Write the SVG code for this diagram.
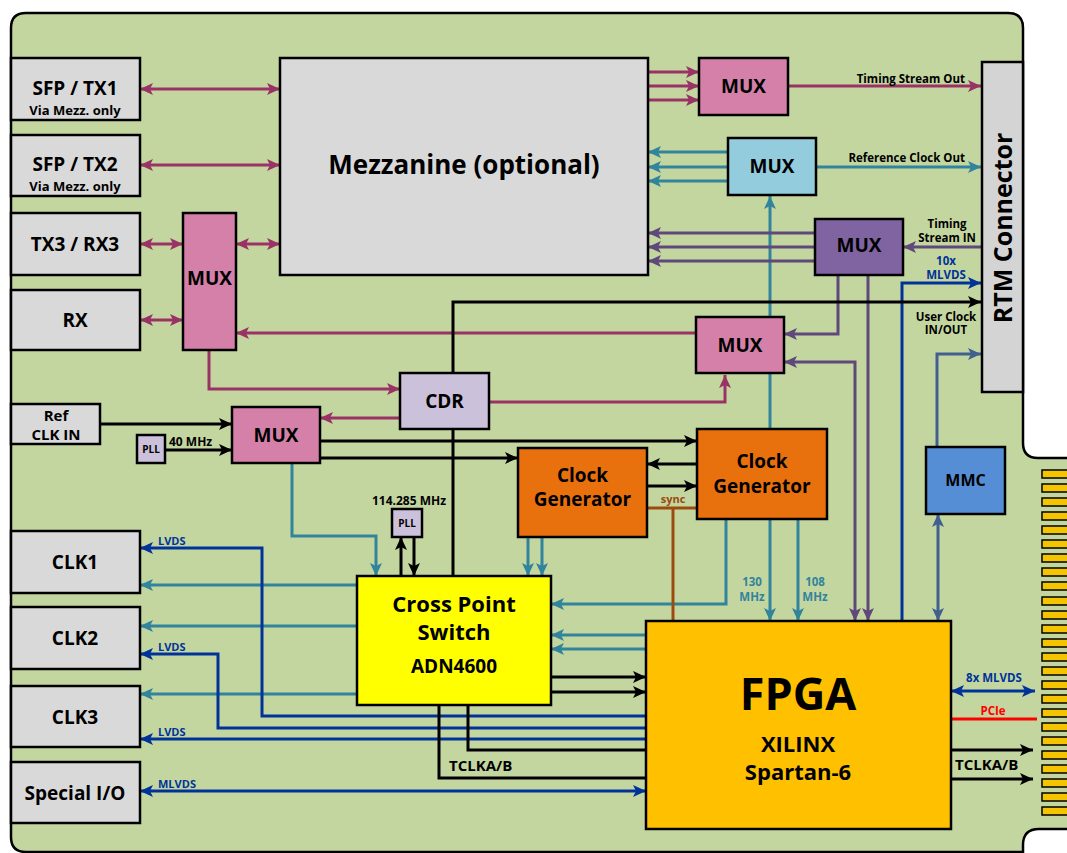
<svg xmlns="http://www.w3.org/2000/svg" width="1067" height="853" viewBox="0 0 1067 853">
<defs>
<style>
text{font-family:"Open Sans","Liberation Sans",sans-serif;font-weight:700;fill:#000}
.c{text-anchor:middle}
.e{text-anchor:end}
.box{stroke:#000;stroke-width:2.5}
.gray{fill:#D9D9D9}
.pink{fill:#D580A8}
.teal{fill:#93CDDD}
.purp{fill:#8064A2}
.lav{fill:#CCC1DA}
.orng{fill:#E8710E}
.yel{fill:#FFFF00}
.gold{fill:#FFC000}
.mmc{fill:#558ED5}
.ln{fill:none;stroke-width:3}
.mr{stroke:#993366}
.tl{stroke:#31849B}
.pu{stroke:#5F497A}
.bl{stroke:#003399}
.st{stroke:#41608F}
.bk{stroke:#000}
.br{stroke:#9C4A0E}
.rd{stroke:#FF0000}
.f19{font-size:19px}
.f11{font-size:11.5px}
.fin{fill:#F5C400;stroke:#000;stroke-width:1.5}
</style>
<marker id="aM" viewBox="0 0 13 12" refX="13" refY="6" markerWidth="13" markerHeight="12" markerUnits="userSpaceOnUse" orient="auto-start-reverse"><path d="M0,0 L13,6 L0,12 L3,6 z" fill="#993366"/></marker>
<marker id="aT" viewBox="0 0 13 12" refX="13" refY="6" markerWidth="13" markerHeight="12" markerUnits="userSpaceOnUse" orient="auto-start-reverse"><path d="M0,0 L13,6 L0,12 L3,6 z" fill="#31849B"/></marker>
<marker id="aP" viewBox="0 0 13 12" refX="13" refY="6" markerWidth="13" markerHeight="12" markerUnits="userSpaceOnUse" orient="auto-start-reverse"><path d="M0,0 L13,6 L0,12 L3,6 z" fill="#5F497A"/></marker>
<marker id="aB" viewBox="0 0 13 12" refX="13" refY="6" markerWidth="13" markerHeight="12" markerUnits="userSpaceOnUse" orient="auto-start-reverse"><path d="M0,0 L13,6 L0,12 L3,6 z" fill="#003399"/></marker>
<marker id="aS" viewBox="0 0 13 12" refX="13" refY="6" markerWidth="13" markerHeight="12" markerUnits="userSpaceOnUse" orient="auto-start-reverse"><path d="M0,0 L13,6 L0,12 L3,6 z" fill="#41608F"/></marker>
<marker id="aK" viewBox="0 0 13 12" refX="13" refY="6" markerWidth="13" markerHeight="12" markerUnits="userSpaceOnUse" orient="auto-start-reverse"><path d="M0,0 L13,6 L0,12 L3,6 z" fill="#000"/></marker>
</defs>
<rect width="1067" height="853" fill="#fff"/>
<g id="board">
<path d="M11,28 Q11,13 26,13 L1008,13 Q1023,13 1023,28 L1023,443 Q1023,458 1038,458 L1070,458 L1070,829 L1039,829 Q1023,829 1023,845 L1023,852 L26,852 Q11,852 11,837 Z" fill="#C4D6A0" stroke="#000" stroke-width="2.5"/>
<g id="fingers">
<rect class="fin" x="1042" y="470" width="30" height="8"/>
<rect class="fin" x="1042" y="484" width="30" height="8"/>
<rect class="fin" x="1042" y="498" width="30" height="8"/>
<rect class="fin" x="1042" y="512" width="30" height="8"/>
<rect class="fin" x="1042" y="526" width="30" height="8"/>
<rect class="fin" x="1042" y="540" width="30" height="8"/>
<rect class="fin" x="1042" y="554" width="30" height="8"/>
<rect class="fin" x="1042" y="568" width="30" height="8"/>
<rect class="fin" x="1042" y="582" width="30" height="8"/>
<rect class="fin" x="1042" y="597" width="30" height="8"/>
<rect class="fin" x="1042" y="611" width="30" height="8"/>
<rect class="fin" x="1042" y="625" width="30" height="8"/>
<rect class="fin" x="1042" y="639" width="30" height="8"/>
<rect class="fin" x="1042" y="653" width="30" height="8"/>
<rect class="fin" x="1042" y="667" width="30" height="8"/>
<rect class="fin" x="1042" y="681" width="30" height="8"/>
<rect class="fin" x="1042" y="695" width="30" height="8"/>
<rect class="fin" x="1042" y="709" width="30" height="8"/>
<rect class="fin" x="1042" y="723" width="30" height="8"/>
<rect class="fin" x="1042" y="737" width="30" height="8"/>
<rect class="fin" x="1042" y="751" width="30" height="8"/>
<rect class="fin" x="1042" y="765" width="30" height="8"/>
<rect class="fin" x="1042" y="779" width="30" height="8"/>
<rect class="fin" x="1042" y="793" width="30" height="8"/>
<rect class="fin" x="1042" y="807" width="30" height="8"/>
</g>
</g>
<g id="connectors">
<g class="ln mr">
<path d="M140,89 H280" marker-start="url(#aM)" marker-end="url(#aM)"/>
<path d="M140,165 H280" marker-start="url(#aM)" marker-end="url(#aM)"/>
<path d="M140,244 H183" marker-start="url(#aM)" marker-end="url(#aM)"/>
<path d="M236,244 H280" marker-start="url(#aM)" marker-end="url(#aM)"/>
<path d="M140,320 H183" marker-start="url(#aM)" marker-end="url(#aM)"/>
<path d="M696,333 H236" marker-end="url(#aM)"/>
<path d="M209,350 V389 H400" marker-end="url(#aM)"/>
<path d="M400,418 H320" marker-end="url(#aM)"/>
<path d="M489,402 H725 V375" marker-end="url(#aM)"/>
<path d="M648,72 H699" marker-end="url(#aM)"/>
<path d="M648,86 H699" marker-end="url(#aM)"/>
<path d="M648,100 H699" marker-end="url(#aM)"/>
<path d="M788,86 H981" marker-end="url(#aM)"/>
</g>
<g class="ln tl">
<path d="M728,152 H648" marker-end="url(#aT)"/>
<path d="M728,167 H648" marker-end="url(#aT)"/>
<path d="M728,181 H648" marker-end="url(#aT)"/>
<path d="M816,167 H981" marker-end="url(#aT)"/>
<path d="M770,429 V196" marker-end="url(#aT)"/>
<path d="M528,537 V576" marker-end="url(#aT)"/>
<path d="M542,537 V576" marker-end="url(#aT)"/>
<path d="M726,519 V604 H551" marker-end="url(#aT)"/>
<path d="M770,519 V621" marker-end="url(#aT)"/>
<path d="M798,519 V621" marker-end="url(#aT)"/>
<path d="M292,463 V536 H376 V576" marker-end="url(#aT)"/>
<path d="M357,585 H140" marker-end="url(#aT)"/>
<path d="M357,626 H140" marker-end="url(#aT)"/>
<path d="M357,694 H140" marker-end="url(#aT)"/>
<path d="M646,635 H551" marker-end="url(#aT)"/>
<path d="M646,649 H551" marker-end="url(#aT)"/>
</g>
<g class="ln pu">
<path d="M815,233 H648" marker-end="url(#aP)"/>
<path d="M815,247 H648" marker-end="url(#aP)"/>
<path d="M815,261 H648" marker-end="url(#aP)"/>
<path d="M981,247 H903" marker-end="url(#aP)"/>
<path d="M838,275 V334 H784" marker-end="url(#aP)"/>
<path d="M784,362 H855 V621" marker-start="url(#aP)" marker-end="url(#aP)"/>
<path d="M868,275 V621" marker-end="url(#aP)"/>
</g>
<g class="ln bl">
<path d="M902,621 V283 H981" marker-end="url(#aB)"/>
<path d="M951,691 H1035" marker-start="url(#aB)" marker-end="url(#aB)"/>
<path d="M646,716 H262 V548 H140" marker-end="url(#aB)"/>
<path d="M646,728 H218 V654 H140" marker-end="url(#aB)"/>
<path d="M646,739 H140" marker-end="url(#aB)"/>
<path d="M140,791 H646" marker-start="url(#aB)" marker-end="url(#aB)"/>
</g>
<g class="ln st">
<path d="M937,447 V354 H981" marker-end="url(#aS)"/>
<path d="M938,514 V621" marker-start="url(#aS)" marker-end="url(#aS)"/>
</g>
<g class="ln bk">
<path d="M100,424 H232" marker-end="url(#aK)"/>
<path d="M165,450 H232" marker-end="url(#aK)"/>
<path d="M320,441 H697" marker-end="url(#aK)"/>
<path d="M320,458 H518" marker-end="url(#aK)"/>
<path d="M697,464 H647" marker-end="url(#aK)"/>
<path d="M647,486 H697" marker-end="url(#aK)"/>
<path d="M453,373 V302 H981" marker-end="url(#aK)"/>
<path d="M453,429 V576"/>
<path d="M401,576 V537" marker-end="url(#aK)"/>
<path d="M414,537 V576" marker-end="url(#aK)"/>
<path d="M551,677 H646" marker-end="url(#aK)"/>
<path d="M551,692 H646" marker-end="url(#aK)"/>
<path d="M468,705 V750 H646"/>
<path d="M439,705 V778 H646"/>
<path d="M951,750 H1033" marker-end="url(#aK)"/>
<path d="M951,779 H1033" marker-end="url(#aK)"/>
</g>
<g class="ln br">
<path d="M647,508 H697"/>
<path d="M673,508 V621"/>
</g>
<path class="ln rd" d="M951,719 H1037"/>
</g>
<g id="n-sfp1"><rect class="box gray" x="11" y="58" width="129" height="62"/><text class="c f19" x="75" y="94.5">SFP / TX1</text><text class="c" x="75" y="114.5" font-size="13">Via Mezz. only</text></g>
<g id="n-sfp2"><rect class="box gray" x="11" y="135" width="129" height="61"/><text class="c f19" x="75" y="170.5">SFP / TX2</text><text class="c" x="75" y="190.5" font-size="13">Via Mezz. only</text></g>
<g id="n-tx3"><rect class="box gray" x="11" y="213" width="129" height="62"/><text class="c f19" x="75" y="251">TX3 / RX3</text></g>
<g id="n-rx"><rect class="box gray" x="11" y="290" width="129" height="60"/><text class="c f19" x="75" y="327">RX</text></g>
<g id="n-refclk"><rect class="box gray" x="11" y="404" width="89" height="40"/><text class="c" x="56" y="421" font-size="15">Ref</text><text class="c" x="56" y="440" font-size="15">CLK IN</text></g>
<g id="n-clk1"><rect class="box gray" x="11" y="531" width="129" height="62"/><text class="c f19" x="75" y="569">CLK1</text></g>
<g id="n-clk2"><rect class="box gray" x="11" y="607" width="129" height="62"/><text class="c f19" x="75" y="645">CLK2</text></g>
<g id="n-clk3"><rect class="box gray" x="11" y="686" width="129" height="61"/><text class="c f19" x="75" y="724">CLK3</text></g>
<g id="n-special"><rect class="box gray" x="11" y="762" width="129" height="61"/><text class="c f19" x="75" y="800">Special I/O</text></g>
<g id="n-mezz"><rect class="box gray" x="280" y="58" width="368" height="217"/><text class="c" x="464" y="174" font-size="26">Mezzanine (optional)</text></g>
<g id="n-muxl"><rect class="box pink" x="183" y="213" width="53" height="137"/><text class="c f19" x="209.5" y="285">MUX</text></g>
<g id="n-muxtop"><rect class="box pink" x="699" y="58" width="89" height="57"/><text class="c f19" x="743.5" y="93">MUX</text></g>
<g id="n-muxteal"><rect class="box teal" x="728" y="138" width="88" height="57"/><text class="c f19" x="772" y="173">MUX</text></g>
<g id="n-muxpurp"><rect class="box purp" x="815" y="219" width="88" height="56"/><text class="c f19" x="859" y="252">MUX</text></g>
<g id="n-mux2"><rect class="box pink" x="696" y="317" width="88" height="56"/><text class="c f19" x="740" y="352">MUX</text></g>
<g id="n-cdr"><rect class="box lav" x="400" y="373" width="89" height="56"/><text class="c f19" x="444.5" y="408">CDR</text></g>
<g id="n-muxb"><rect class="box pink" x="232" y="407" width="88" height="56"/><text class="c f19" x="276" y="442">MUX</text></g>
<g id="n-pll1"><rect class="box lav" x="137" y="435" width="28" height="28" stroke-width="2"/><text class="c" x="151" y="453" font-size="10">PLL</text></g>
<g id="n-cg1"><rect class="box orng" x="518" y="448" width="129" height="89"/><text class="c f19" x="582.5" y="482">Clock</text><text class="c f19" x="582.5" y="506">Generator</text></g>
<g id="n-cg2"><rect class="box orng" x="697" y="429" width="130" height="90"/><text class="c f19" x="762" y="468">Clock</text><text class="c f19" x="762" y="493">Generator</text></g>
<g id="n-pll2"><rect class="box lav" x="392" y="509" width="30" height="28" stroke-width="2"/><text class="c" x="407" y="527" font-size="10">PLL</text></g>
<g id="n-cps"><rect class="box yel" x="357" y="576" width="194" height="129"/><text class="c" x="454" y="612" font-size="22">Cross Point</text><text class="c" x="454" y="640" font-size="22">Switch</text><text class="c f19" x="454" y="673">ADN4600</text></g>
<g id="n-fpga"><rect class="box gold" x="646" y="621" width="305" height="208"/><text class="c" x="798" y="710" font-size="45">FPGA</text><text class="c" x="798" y="752" font-size="22">XILINX</text><text class="c" x="798" y="780" font-size="22">Spartan-6</text></g>
<g id="n-mmc"><rect class="box mmc" x="926" y="447" width="79" height="67"/><text class="c" x="965.5" y="486" font-size="16">MMC</text></g>
<g id="n-rtm"><rect class="box" fill="#D4D4D4" x="982" y="62" width="41" height="330"/><text class="c" font-size="25" transform="translate(1012,228) rotate(-90)">RTM Connector</text></g>
<g id="labels">
<text class="e f11" x="965" y="83">Timing Stream Out</text>
<text class="e f11" x="965" y="162">Reference Clock Out</text>
<text class="c f11" x="947" y="228">Timing</text>
<text class="c f11" x="947" y="242">Stream IN</text>
<text class="c f11" x="946" y="265" style="fill:#003399">10x</text>
<text class="c f11" x="946" y="279" style="fill:#003399">MLVDS</text>
<text class="c f11" x="946" y="321">User Clock</text>
<text class="c f11" x="946" y="334">IN/OUT</text>
<text x="169" y="446" font-size="12">40 MHz</text>
<text class="c" x="409" y="505" font-size="12">114.285 MHz</text>
<text class="c" x="673" y="503" font-size="11" style="fill:#9C4A0E">sync</text>
<text class="c f11" x="752" y="586" style="fill:#31849B">130</text>
<text class="c f11" x="752" y="601" style="fill:#31849B">MHz</text>
<text class="c f11" x="815" y="586" style="fill:#31849B">108</text>
<text class="c f11" x="815" y="601" style="fill:#31849B">MHz</text>
<text x="158" y="545" font-size="11" style="fill:#003399">LVDS</text>
<text x="158" y="651" font-size="11" style="fill:#003399">LVDS</text>
<text x="158" y="736" font-size="11" style="fill:#003399">LVDS</text>
<text x="158" y="788" font-size="11" style="fill:#003399">MLVDS</text>
<text x="449" y="771" font-size="15">TCLKA/B</text>
<text x="955" y="770" font-size="15">TCLKA/B</text>
<text class="c f11" x="994" y="682" style="fill:#003399">8x MLVDS</text>
<text class="c f11" x="993" y="715" style="fill:#FF0000">PCIe</text>
</g>
</svg>
